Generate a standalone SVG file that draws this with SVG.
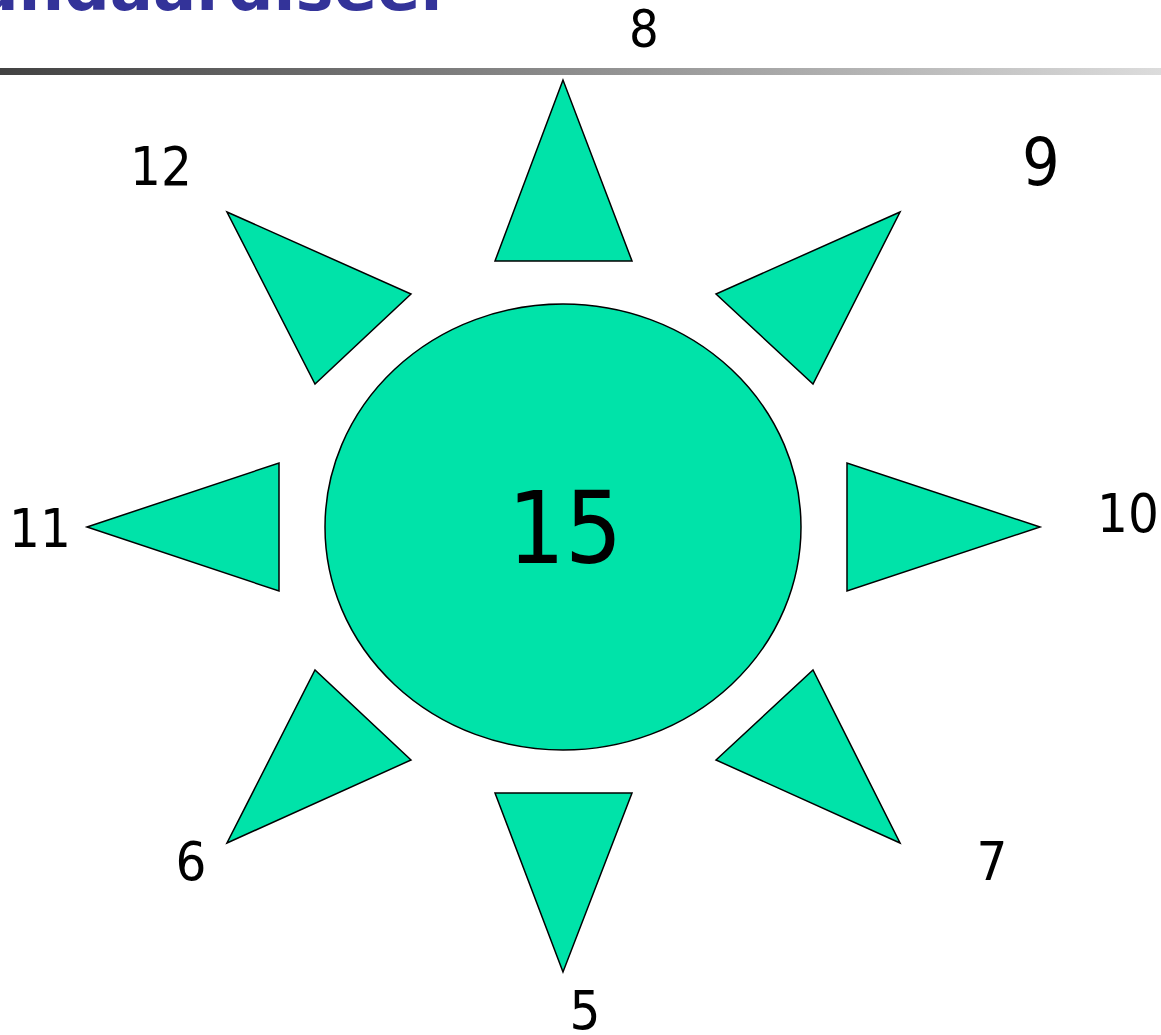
<svg xmlns="http://www.w3.org/2000/svg" width="1161" height="1035" viewBox="0 0 1161 1035">
<defs>
<linearGradient id="bar" x1="0" y1="0" x2="1" y2="0">
<stop offset="0" stop-color="#424242"/>
<stop offset="0.5" stop-color="#8e8e8e"/>
<stop offset="1" stop-color="#dcdcdc"/>
</linearGradient>
<style>
.shape{fill:#00E3A9;stroke:#000;stroke-width:1.5;stroke-linejoin:miter}
.lbl{font-family:"DejaVu Sans Condensed","DejaVu Sans",sans-serif;fill:#000;text-anchor:middle}
.title{font-family:"DejaVu Sans","Liberation Sans",sans-serif;fill:#333399;font-size:64px;font-weight:bold}
</style>
</defs>
<rect width="1161" height="1035" fill="#fff"/>
<text class="title" x="452" y="10" text-anchor="end">Standaardiseer</text>
<rect x="0" y="68" width="1161" height="7" fill="url(#bar)"/>
<g id="center">
<ellipse class="shape" cx="563" cy="527" rx="238" ry="223"/>
<text class="lbl" x="565" y="563" font-size="100">15</text>
</g>
<g id="ray-top"><polygon class="shape" points="563,80 495,261 632,261"/><text class="lbl" x="644" y="47" font-size="52">8</text></g>
<g id="ray-topright"><polygon class="shape" points="900,212 716,294 813,384"/><text class="lbl" x="1041" y="185" font-size="66">9</text></g>
<g id="ray-right"><polygon class="shape" points="1040,527 847,463 847,591"/><text class="lbl" x="1128" y="532" font-size="54">10</text></g>
<g id="ray-bottomright"><polygon class="shape" points="900,843 716,760 813,670"/><text class="lbl" x="992" y="880" font-size="54">7</text></g>
<g id="ray-bottom"><polygon class="shape" points="563,972 495,793 632,793"/><text class="lbl" x="585" y="1029" font-size="54">5</text></g>
<g id="ray-bottomleft"><polygon class="shape" points="227,843 411,760 315,670"/><text class="lbl" x="191" y="880" font-size="54">6</text></g>
<g id="ray-left"><polygon class="shape" points="87,527 279,463 279,591"/><text class="lbl" x="40" y="547" font-size="54">11</text></g>
<g id="ray-topleft"><polygon class="shape" points="227,212 411,294 315,384"/><text class="lbl" x="161" y="185" font-size="54">12</text></g>
<g id="connectors"/>
</svg>
